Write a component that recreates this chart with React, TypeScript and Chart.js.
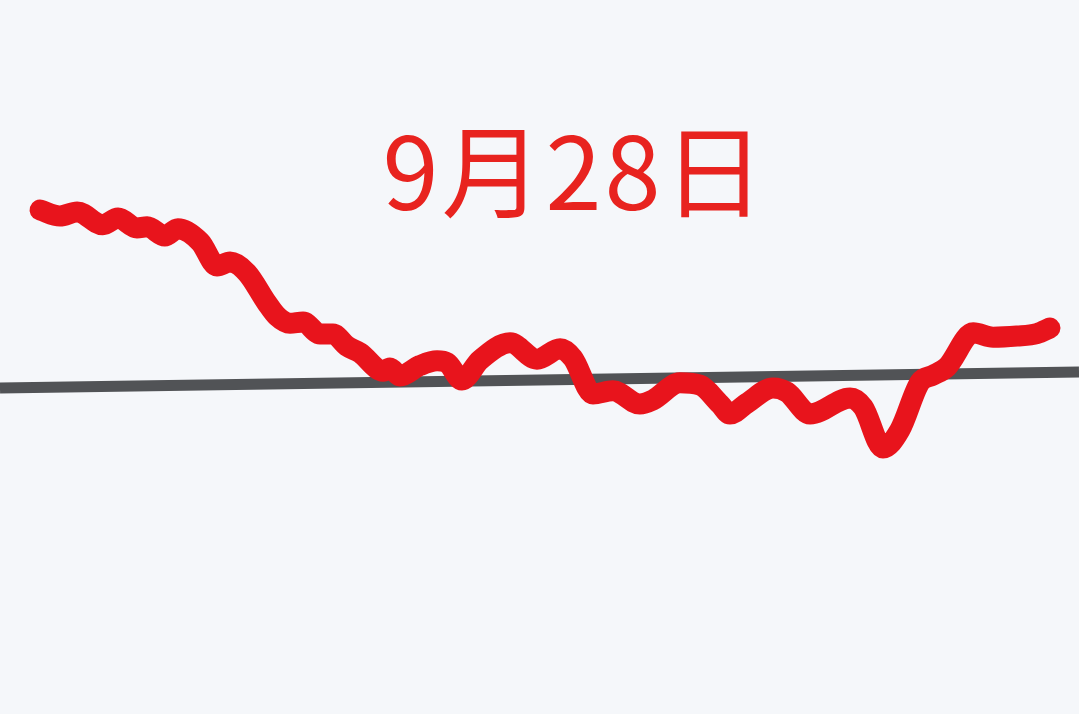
import React, { useEffect, useRef } from "react";
import { Chart, registerables } from "chart.js";

Chart.register(...registerables);

// Time (minutes into session) and change (%) of the red intraday line
const times: number[] = [
  0, 4.7, 8.8, 14.9, 18.5, 23.0, 25.4, 29.6, 32.7, 38.0, 42.0, 45.1, 49.1, 53.8, 56.2, 59.3,
  62.4, 66.4, 69.5, 72.8, 75.9, 81.4, 83.0, 85.4, 90.1, 94.2, 96.6, 100.1, 104.4, 111.5,
  117.9, 123.4, 126.4, 131.2, 135.9, 142.3, 145.4, 151.8, 156.6, 161.3, 163.7, 167.7, 173.9,
  177.2, 182.7, 192.2, 195.3, 200.0, 204.0, 208.8, 211.9, 215.2, 221.4, 226.1, 231.8, 236.5,
  239.6,
];
const changes: number[] = [
  4.25, 4.1, 4.2, 3.88, 4.05, 3.8, 3.83, 3.6, 3.78, 3.45, 2.85, 2.95, 2.68, 1.93, 1.6, 1.42,
  1.45, 1.15, 1.15, 0.85, 0.68, 0.22, 0.3, 0.1, 0.36, 0.48, 0.43, 0.0, 0.5, 0.93,
  0.52, 0.78, 0.55, -0.35, -0.27, -0.6, -0.5, -0.07, -0.13, -0.6, -0.85, -0.58, -0.2,
  -0.3, -0.85, -0.45, -0.68, -1.7, -1.25, -0.05, 0.12, 0.33, 1.18, 1.07, 1.1, 1.16,
  1.3,
];
// Reference (previous close) line endpoints
const refTimes: number[] = [-9.5, 246.5];
const refValues: number[] = [-0.2, 0.2];

const TITLE = "9月28日";

const X_MIN = -9.5;
const X_MAX = 246.5;
const Y_MIN = -8.35;
const Y_MAX = 9.5;

export default function App() {
  const canvasRef = useRef<HTMLCanvasElement | null>(null);

  useEffect(() => {
    const canvas = canvasRef.current;
    if (!canvas) return;

    const titlePlugin = {
      id: "dateTitle",
      afterDraw(chart: any) {
        const ctx = chart.ctx;
        ctx.save();
        ctx.fillStyle = "#e8231f";
        ctx.font = '400 101px "Noto Sans CJK SC", "Noto Sans", sans-serif';
        ctx.textAlign = "center";
        ctx.textBaseline = "alphabetic";
        try {
          (ctx as any).letterSpacing = "3px";
        } catch (e) {}
        ctx.fillText(TITLE, 575, 210);
        ctx.restore();
      },
    };

    const chart = new Chart(canvas, {
      type: "line",
      data: {
        datasets: [
          {
            label: "ref",
            data: refTimes.map((t, i) => ({ x: t, y: refValues[i] })),
            borderColor: "#515356",
            borderWidth: 11,
            pointRadius: 0,
            tension: 0,
            order: 2,
            clip: false as any,
          },
          {
            label: "price",
            data: times.map((t, i) => ({ x: t, y: changes[i] })),
            borderColor: "#e8141c",
            borderWidth: 21,
            pointRadius: 0,
            tension: 0.4,
            cubicInterpolationMode: "monotone",
            borderCapStyle: "round",
            borderJoinStyle: "round",
            order: 1,
            clip: false as any,
          },
        ],
      },
      options: {
        responsive: false,
        animation: false,
        layout: { padding: 0 },
        plugins: {
          legend: { display: false },
          tooltip: { enabled: false },
          title: { display: false },
        },
        scales: {
          x: { type: "linear", min: X_MIN, max: X_MAX, display: false },
          y: { type: "linear", min: Y_MIN, max: Y_MAX, display: false },
        },
      },
      plugins: [titlePlugin],
    });

    return () => chart.destroy();
  }, []);

  return (
    <div
      style={{
        position: "absolute",
        left: 0,
        top: 0,
        width: 1079,
        height: 714,
        background: "#f5f7fa",
      }}
    >
      <canvas ref={canvasRef} width={1079} height={714} />
    </div>
  );
}
